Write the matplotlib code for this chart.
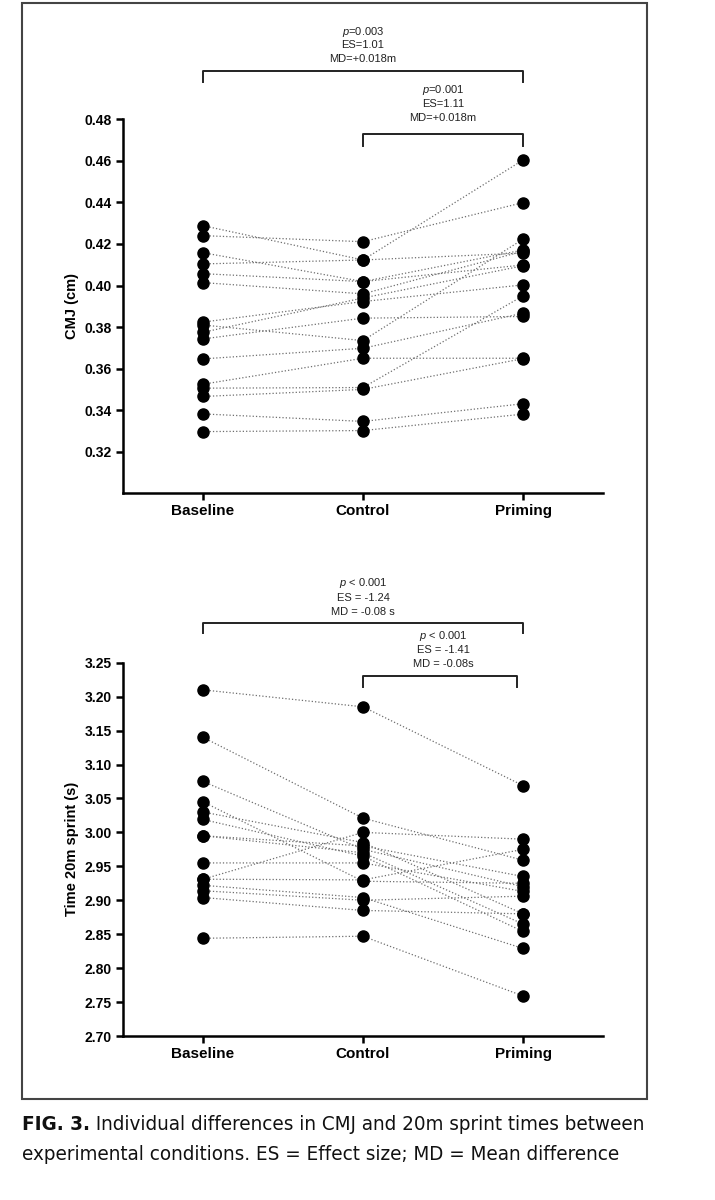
from __future__ import annotations

import matplotlib
matplotlib.use("Agg")
import matplotlib.pyplot as plt
from matplotlib import font_manager
from matplotlib.patches import Rectangle
from matplotlib.transforms import blended_transform_factory

conditions = ["Baseline", "Control", "Priming"]

# CMJ height per participant (m)
cmj_baseline = [0.4288, 0.4240, 0.4158, 0.4104, 0.4057, 0.4014, 0.3824, 0.3810,
                0.3775, 0.3743, 0.3647, 0.3525, 0.3506, 0.3466, 0.3382, 0.3297]
cmj_control = [0.4123, 0.4211, 0.4019, 0.4123, 0.4019, 0.3960, 0.3923, 0.3735,
               0.3940, 0.3843, 0.3698, 0.3650, 0.3509, 0.3500, 0.3346, 0.3302]
cmj_priming = [0.4604, 0.4399, 0.4171, 0.4156, 0.4099, 0.4165, 0.4003, 0.4223,
               0.4095, 0.3851, 0.3867, 0.3650, 0.3950, 0.3648, 0.3431, 0.3381]

# 20 m sprint time per participant (s)
sprint_baseline = [3.210, 3.140, 3.075, 3.045, 3.030, 3.019, 2.995, 2.995,
                   2.955, 2.931, 2.931, 2.922, 2.914, 2.904, 2.844]
sprint_control = [3.185, 3.021, 2.975, 2.928, 2.985, 2.965, 2.980, 2.970,
                  2.955, 3.000, 2.930, 2.904, 2.900, 2.885, 2.847]
sprint_priming = [3.069, 2.959, 2.920, 2.925, 2.880, 2.854, 2.935, 2.865,
                  2.913, 2.990, 2.975, 2.829, 2.906, 2.880, 2.759]

cmj_ticks = [0.32, 0.34, 0.36, 0.38, 0.40, 0.42, 0.44, 0.46, 0.48]
sprint_ticks = [2.70, 2.75, 2.80, 2.85, 2.90, 2.95, 3.00, 3.05, 3.10, 3.15, 3.20, 3.25]

cmj_all_text = ["$p$=0.003", "ES=1.01", "MD=+0.018m"]
cmj_ctrl_text = ["$p$=0.001", "ES=1.11", "MD=+0.018m"]
sprint_all_text = ["$p$ < 0.001", "ES = -1.24", "MD = -0.08 s"]
sprint_ctrl_text = ["$p$ < 0.001", "ES = -1.41", "MD = -0.08s"]

W, H = 715, 1200


def draw_panel(ax, base, ctrl, prim, ticks, ylim, ylabel):
    xs = range(len(conditions))
    for b, c, p in zip(base, ctrl, prim):
        ax.plot(xs, [b, c, p], ls=":", lw=0.9, color="#6e6e6e", zorder=1)
    for i, vals in enumerate([base, ctrl, prim]):
        ax.plot([i] * len(vals), vals, "o", ms=8, color="black", zorder=3)

    ax.set_xlim(-0.5, 2.5)
    ax.set_ylim(*ylim)
    ax.set_yticks(ticks)
    ax.set_yticklabels([f"{t:.2f}" for t in ticks], fontweight="bold", fontsize=10)
    ax.set_xticks(list(xs))
    ax.set_xticklabels(conditions, fontweight="bold", fontsize=11)
    ax.set_ylabel(ylabel, fontweight="bold", fontsize=10.5)

    for side in ["top", "right"]:
        ax.spines[side].set_visible(False)
    for side in ["left", "bottom"]:
        ax.spines[side].set_linewidth(1.8)
    ax.tick_params(direction="out", length=5, width=1.8, pad=3)


def bracket(ax, x0, x1, y, tip, lines, text_x, text_ys):
    trans = blended_transform_factory(ax.transData, ax.transAxes)
    ax.plot([x0, x0, x1, x1], [tip, y, y, tip], color="#222222", lw=1.4,
            transform=trans, clip_on=False)
    for line, ty in zip(lines, text_ys):
        ax.text(text_x, ty, line, transform=trans, ha="center", va="center",
                fontsize=8, color="#222222")


def pick_caption_font():
    # a narrow face fits the justified caption better, if one is installed
    entries = font_manager.fontManager.ttflist
    names = {f.name for f in entries}
    if "Liberation Sans Narrow" in names:
        return "Liberation Sans Narrow", "normal"
    for f in entries:
        if f.name == "DejaVu Sans" and f.stretch in ("condensed", "semi-condensed"):
            return "DejaVu Sans", "condensed"
    return "Liberation Sans", "normal"


def add_caption(fig):
    family, stretch = pick_caption_font()
    left, right = 22 / W, 647 / W
    y1, y2 = 1 - 1130 / H, 1 - 1160 / H
    size = 15
    kw = dict(fontsize=size, family=family, fontstretch=stretch, va="baseline", color="#111111")
    head = fig.text(left, y1, "FIG. 3.", fontweight="bold", **kw)
    rest = fig.text(left, y1, " Individual differences in CMJ and 20m sprint times between", **kw)
    line2 = fig.text(left, y2, "experimental conditions. ES = Effect size; MD = Mean difference", **kw)

    r = fig.canvas.get_renderer()
    w1 = head.get_window_extent(r).width + rest.get_window_extent(r).width
    w2 = line2.get_window_extent(r).width
    target = (right - left) * W
    size = min(size * target / max(w1, w2), 16)
    for t in (head, rest, line2):
        t.set_fontsize(size)
    r = fig.canvas.get_renderer()
    rest.set_x(head.get_window_extent(r).x1 / W)


def main() -> None:
    plt.rcParams["font.family"] = ["Liberation Sans", "DejaVu Sans"]
    plt.rcParams["mathtext.fontset"] = "custom"
    plt.rcParams["mathtext.rm"] = "Liberation Sans"
    plt.rcParams["mathtext.it"] = "Liberation Sans:italic"

    fig = plt.figure(figsize=(W / 100, H / 100), dpi=100)
    ax1 = fig.add_axes([123 / W, 1 - 493.3 / H, 480 / W, 374 / H])
    ax2 = fig.add_axes([123 / W, 1 - 1036 / H, 480 / W, 373.3 / H])

    draw_panel(ax1, cmj_baseline, cmj_control, cmj_priming, cmj_ticks, (0.30, 0.48), "CMJ (cm)")
    draw_panel(ax2, sprint_baseline, sprint_control, sprint_priming, sprint_ticks, (2.70, 3.25),
               "Time 20m sprint (s)")

    bracket(ax1, 0, 2, 1.129, 1.100, cmj_all_text, 1, [1.234, 1.199, 1.160])
    bracket(ax1, 1, 2, 0.960, 0.929, cmj_ctrl_text, 1.5, [1.079, 1.040, 1.003])
    bracket(ax2, 0, 2, 1.106, 1.080, sprint_all_text, 1, [1.213, 1.174, 1.137])
    bracket(ax2, 1, 1.96, 0.965, 0.936, sprint_ctrl_text, 1.5, [1.072, 1.034, 0.996])

    fig.add_artist(Rectangle((21.5 / W, 1 - 1099 / H), 625.5 / W, 1096 / H,
                             transform=fig.transFigure, fill=False, lw=1.5, ec="#444444"))

    add_caption(fig)
    fig.savefig("out.png", dpi=100)
    plt.close(fig)


if __name__ == "__main__":
    main()
